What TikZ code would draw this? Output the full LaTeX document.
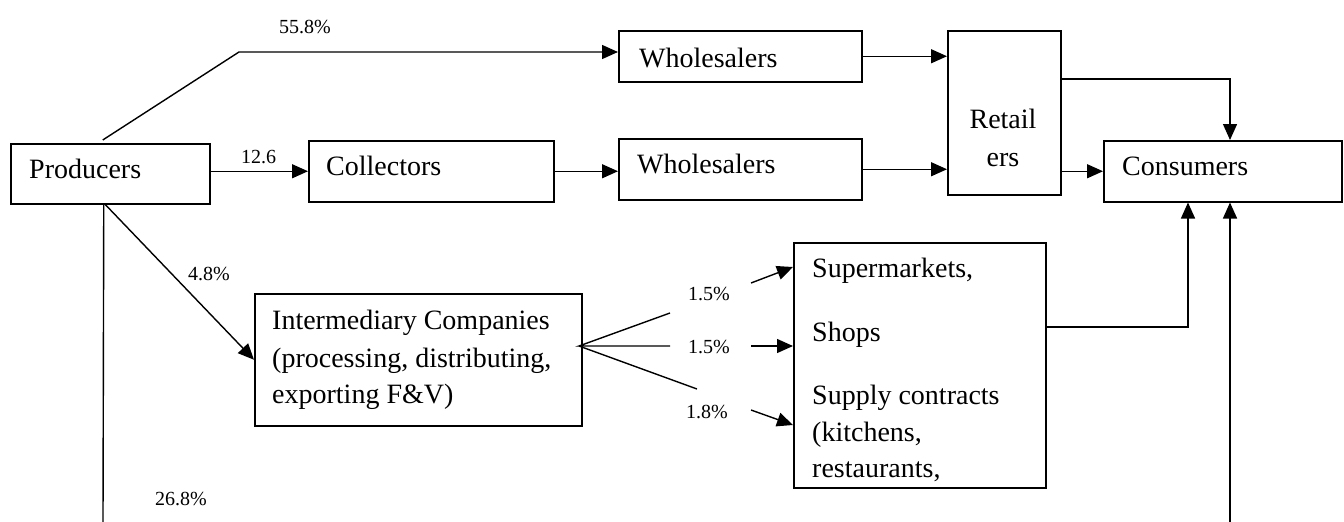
\documentclass[tikz,border=0pt]{standalone}
\usepackage{fontspec}
\setmainfont{Liberation Serif}
\usetikzlibrary{arrows.meta,calc}
\begin{document}
\begin{tikzpicture}[x=1pt,y=-1pt,
  box/.style={draw, line width=1.5pt, inner sep=0pt, anchor=north west},
  txt/.style={anchor=base west, inner sep=0pt, font=\fontsize{28}{36}\selectfont},
  pct/.style={anchor=base west, inner sep=0pt, font=\fontsize{20}{24}\selectfont},
  conn/.style={line width=1.4pt},
  arr/.style={conn, -{Triangle[length=16pt,width=14pt]}}]
\useasboundingbox (0,0) rectangle (1344,522);
% boxes
\node[box, minimum width=199pt, minimum height=60pt] (prod) at (10,143) {};
\node[box, minimum width=245pt, minimum height=61pt] (col) at (308,140) {};
\node[box, minimum width=243pt, minimum height=51pt] (w1) at (618,30) {};
\node[box, minimum width=243pt, minimum height=61pt] (w2) at (618,138) {};
\node[box, minimum width=113pt, minimum height=164pt] (ret) at (947,30) {};
\node[box, minimum width=238pt, minimum height=61pt] (con) at (1103,140) {};
\node[box, minimum width=327pt, minimum height=132pt] (inter) at (254,293) {};
\node[box, minimum width=252pt, minimum height=245pt] (sup) at (793,242) {};
% texts
\node[txt] (prodt) at (29,178) {Producers};
\node[txt] (colt) at (326,175) {Collectors};
\node[txt] (w1t) at (639,67) {Wholesalers};
\node[txt] (w2t) at (637,173) {Wholesalers};
\node[txt, anchor=base] (rett1) at (1003,128) {Retail};
\node[txt, anchor=base] (rett2) at (1003,166) {ers};
\node[txt] (cont) at (1122,175) {Consumers};
\node[txt] (intt1) at (272,329) {Intermediary Companies};
\node[txt] (intt2) at (272,367) {(processing, distributing,};
\node[txt] (intt3) at (272,403) {exporting F\&V)};
\node[txt] (supt1) at (812,277) {Supermarkets,};
\node[txt] (supt2) at (812,341) {Shops};
\node[txt] (supt3) at (812,404) {Supply contracts};
\node[txt] (supt4) at (812,441) {(kitchens,};
\node[txt] (supt5) at (812,477) {restaurants,};
% labels
\node[pct] (p558) at (279,34) {55.8\%};
\node[pct] (p126) at (241,163) {12.6};
\node[pct] (p48) at (188,280) {4.8\%};
\node[pct] (p268) at (155,505) {26.8\%};
\node[pct] (p15a) at (688,300) {1.5\%};
\node[pct] (p15b) at (688,353) {1.5\%};
\node[pct] (p18) at (686,418) {1.8\%};
% coordinates
\coordinate (bend1) at (239,52);
\coordinate (c1) at (1230,79);
\coordinate (pbot) at (103,522);
\coordinate (fan) at (579,346);
\coordinate (f1) at (670,313);
\coordinate (f2) at (670,346);
\coordinate (f3) at (697,389);
\coordinate (a1s) at (751,283);
\coordinate (a1e) at (793,267);
\coordinate (a2s) at (751,346);
\coordinate (a3s) at (751,410);
\coordinate (a3e) at (793,425);
\coordinate (s1) at (1188,327);
\coordinate (cbot) at (1230,522);
% connectors
\draw[arr] ([xshift=-7.5pt,yshift=3pt]prod.north) -- (bend1) -- (bend1 -| w1.west);
\draw[arr] (col.west -| prod.east) -- (col.west);
\draw[arr] (col.east) -- (col.east -| w2.west);
\draw[arr] (w1.east) -- (w1.east -| ret.west);
\draw[arr] (w2.east) -- (w2.east -| ret.west);
\draw[arr] (con.west -| ret.east) -- (con.west);
\draw[arr] (c1 -| ret.east) -- (c1) -- (c1 |- con.north);
\draw[arr] ([xshift=-5pt]prod.south) -- (inter.west);
\draw[conn] ([xshift=-6.5pt]prod.south) -- (pbot);
\draw[conn] (f1) -- (fan) -- (f2);
\draw[conn] (fan) -- (f3);
\draw[arr] (a1s) -- (a1e);
\draw[arr] (a2s) -- (a2s -| sup.west);
\draw[arr] (a3s) -- (a3e);
\draw[arr] (s1 -| sup.east) -- (s1) -- (s1 |- con.south);
\draw[arr] (cbot) -- (cbot |- con.south);
\end{tikzpicture}
\end{document}
